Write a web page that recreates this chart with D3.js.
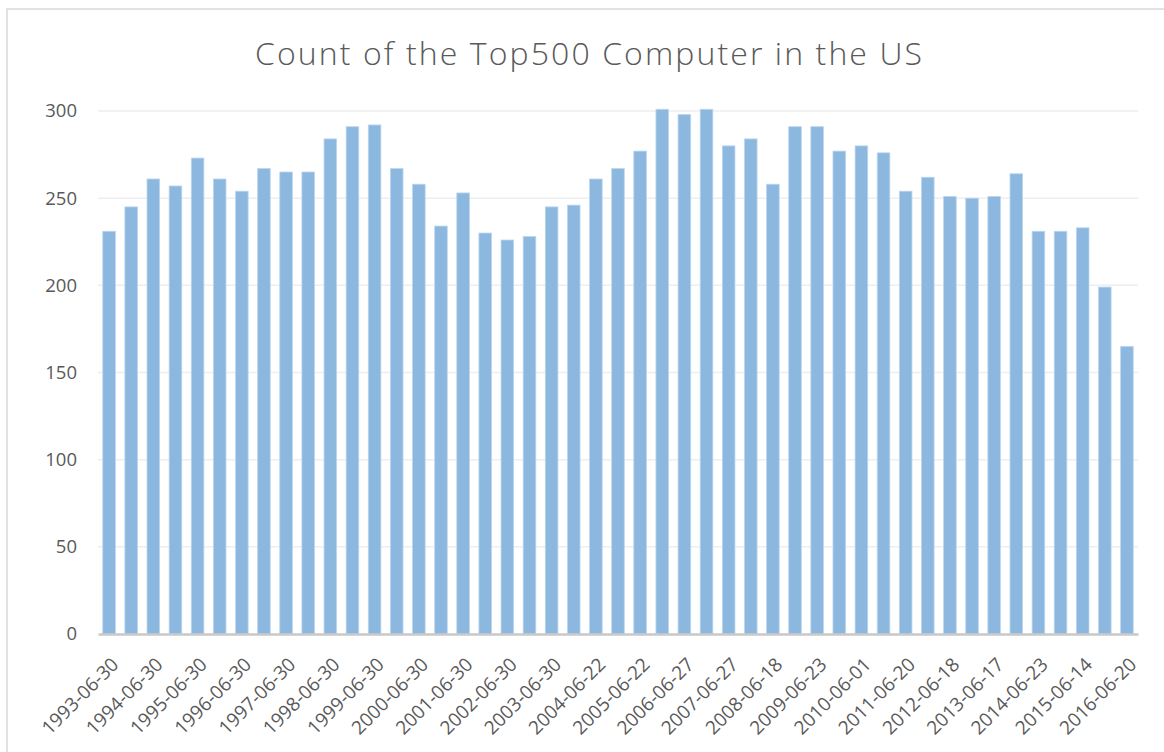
<!DOCTYPE html>
<meta charset="utf-8">
<script src="https://d3js.org/d3.v7.min.js"></script>
<style>
  body { margin: 0; background: #fff; }
  text { font-family: 'Open Sans', sans-serif; fill: #595959; }
</style>
<body>
<div id="my_dataviz"></div>
<script>

// list dates (June + November lists)
var dates = [
  "1993-06-30","1993-11-30","1994-06-30","1994-11-30","1995-06-30","1995-11-30",
  "1996-06-30","1996-11-30","1997-06-30","1997-11-30","1998-06-30","1998-11-30",
  "1999-06-30","1999-11-30","2000-06-30","2000-11-30","2001-06-30","2001-11-30",
  "2002-06-30","2002-11-30","2003-06-30","2003-11-30","2004-06-22","2004-11-08",
  "2005-06-22","2005-11-14","2006-06-27","2006-11-13","2007-06-27","2007-11-12",
  "2008-06-18","2008-11-17","2009-06-23","2009-11-16","2010-06-01","2010-11-13",
  "2011-06-20","2011-11-14","2012-06-18","2012-11-12","2013-06-17","2013-11-18",
  "2014-06-23","2014-11-17","2015-06-14","2015-11-16","2016-06-20"
];

// number of US systems in each list
var counts = [
  231, 245, 261, 257, 273, 261, 254, 267, 265, 265, 284, 291,
  292, 267, 258, 234, 253, 230, 226, 228, 245, 246, 261, 267,
  277, 301, 298, 301, 280, 284, 258, 291, 291, 277, 280, 276,
  254, 262, 251, 250, 251, 264, 231, 231, 233, 199, 165
];

var yTicks = [0, 50, 100, 150, 200, 250, 300];

// only every other date gets a label (the June lists)
var shownLabels = dates.filter(function(d, i) { return i % 2 === 0; });

var W = 1164, H = 752;
var margin = {top: 111, right: 26, bottom: 118, left: 98},
    width = W - margin.left - margin.right,
    height = H - margin.top - margin.bottom;

var root = d3.select("#my_dataviz")
  .append("svg")
    .attr("width", W)
    .attr("height", H);

// chart border
root.append("rect")
  .attr("x", 7).attr("y", 9)
  .attr("width", W + 10).attr("height", H + 10)
  .attr("fill", "none")
  .attr("stroke", "#d9d9d9")
  .attr("stroke-width", 1.5);

// title
root.append("text")
  .attr("x", 255).attr("y", 65)
  .attr("textLength", 667)
  .attr("lengthAdjust", "spacing")
  .style("font-size", "32px")
  .style("font-weight", 300)
  .text("Count of the Top500 Computer in the US");

var svg = root.append("g")
  .attr("transform", "translate(" + margin.left + "," + margin.top + ")");

var x = d3.scaleBand()
  .domain(dates)
  .range([0, width])
  .paddingInner(0.43)
  .paddingOuter(0.215);

var y = d3.scaleLinear()
  .domain([0, 300])
  .range([height, 0]);

// gridlines
svg.append("g")
  .selectAll("line")
  .data(yTicks.filter(function(d) { return d > 0; }))
  .enter().append("line")
    .attr("x1", 0).attr("x2", width)
    .attr("y1", function(d) { return y(d); })
    .attr("y2", function(d) { return y(d); })
    .attr("stroke", "#eeeeee")
    .attr("stroke-width", 1.5);

// Y axis
var yAxis = svg.append("g")
  .call(d3.axisLeft(y).tickValues(yTicks).tickSize(0).tickPadding(21));
yAxis.select(".domain").remove();
yAxis.selectAll("text")
  .style("font-size", "18.5px")
  .style("fill", "#595959")
  .attr("font-family", null);

// bars
svg.selectAll("rect.bar")
  .data(counts)
  .enter()
  .append("rect")
    .attr("class", "bar")
    .attr("x", function(d, i) { return x(dates[i]); })
    .attr("y", function(d) { return y(d); })
    .attr("width", x.bandwidth())
    .attr("height", function(d) { return height - y(d); })
    .attr("fill", "#8cb8e0")
    .attr("stroke", "#bcd6ef")
    .attr("stroke-width", 0.8);

// X axis
var xAxis = svg.append("g")
  .attr("transform", "translate(0," + height + ")")
  .call(d3.axisBottom(x).tickValues(shownLabels).tickSize(0).tickPadding(0));
xAxis.select(".domain")
  .attr("stroke", "#c8c8c8")
  .attr("stroke-width", 2.5);
xAxis.selectAll("text")
  .attr("y", 0)
  .attr("dy", "0.35em")
  .attr("transform", "translate(6,27) rotate(-45)")
  .style("text-anchor", "end")
  .style("font-size", "19px")
  .style("fill", "#595959")
  .attr("font-family", null);

</script>
</body>
